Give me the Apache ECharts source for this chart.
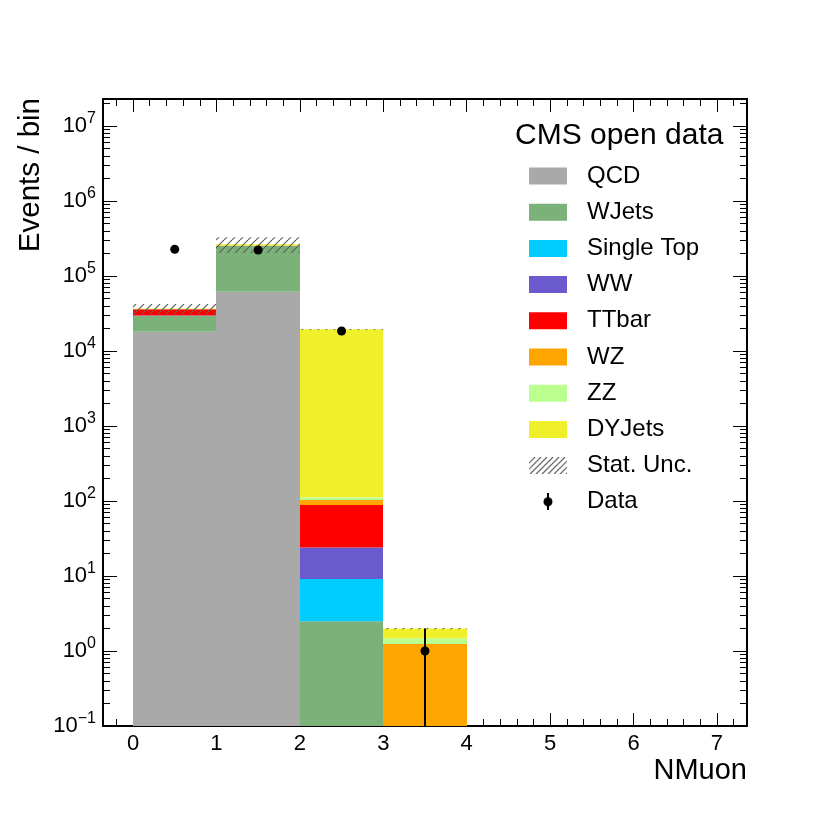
<!DOCTYPE html>
<html>
<head>
<meta charset="utf-8">
<title>NMuon</title>
<script src="https://cdn.jsdelivr.net/npm/echarts@6/dist/echarts.min.js"></script>
<style>
  html, body { margin: 0; padding: 0; background: #fff; }
  #main { width: 830px; height: 830px; }
</style>
</head>
<body>
<div id="main"></div>
<script type="text/javascript">
// bin edges of the NMuon histogram
var binEdges = [0, 1, 2, 3, 4, 5, 6, 7];

// stacked MC contributions per bin
var qcd       = [18100, 61800, 0,     0,    0, 0, 0];
var wjets     = [11200, 189000, 2.5,  0,    0, 0, 0];
var singleTop = [300,   800,   6.6,   0,    0, 0, 0];
var ww        = [100,   300,   14.8,  0,    0, 0, 0];
var ttbar     = [6400,  1500,  64.6,  0,    0, 0, 0];
var wz        = [50,    150,   14.6,  1.24, 0, 0, 0];
var zz        = [20,    60,    9,     0.24, 0, 0, 0];
var dyjets    = [600,   12000, 19400, 0.51, 0, 0, 0];

// stat. uncertainty on the MC sum
var statUnc   = [5500,  63000, 200,   0.04, 0, 0, 0];

// observed data
var dataCounts = [227000, 222000, 18500, 1, 0, 0, 0];

var procNames  = ['QCD', 'WJets', 'Single Top', 'WW', 'TTbar', 'WZ', 'ZZ', 'DYJets'];
var procValues = [qcd, wjets, singleTop, ww, ttbar, wz, zz, dyjets];
var procColors = ['#a9a9a9', '#7ab27a', '#00ccff', '#6a5acd', '#ff0000', '#ffa500', '#bbff8f', '#f0f02a'];

var FONT = "'Liberation Sans', Arial, Helvetica, sans-serif";
var xMin = -0.36, xMax = 7.36, yMin = 0.1, yMax = 2.29e7;

// hatch tile for the uncertainty band
function hatchTile() {
    var c = document.createElement('canvas');
    c.width = 8; c.height = 8;
    var g = c.getContext('2d');
    g.strokeStyle = '#606060';
    g.lineWidth = 1.2;
    for (var k = -8; k <= 8; k += 8) {
        g.beginPath(); g.moveTo(k, 8); g.lineTo(k + 8, 0); g.stroke();
    }
    return c;
}
function hatchIcon() {
    var c = document.createElement('canvas');
    c.width = 38; c.height = 17;
    var g = c.getContext('2d');
    g.strokeStyle = '#606060';
    g.lineWidth = 1.2;
    for (var k = -17; k < 38 + 17; k += 6) {
        g.beginPath(); g.moveTo(k, 17); g.lineTo(k + 17, 0); g.stroke();
    }
    return c.toDataURL();
}
function dataIcon() {
    var c = document.createElement('canvas');
    c.width = 38; c.height = 17;
    var g = c.getContext('2d');
    g.fillStyle = '#000';
    g.fillRect(18, 0, 2, 17);
    g.beginPath(); g.arc(19, 8.5, 4.5, 0, Math.PI * 2); g.fill();
    return c.toDataURL();
}
var TILE = hatchTile();

function rectFrom(api, minH) {
    var p0 = api.coord([api.value(0), api.value(2)]);
    var p1 = api.coord([api.value(1), api.value(3)]);
    var x0 = Math.round(p0[0]), x1 = Math.round(p1[0]);
    return { x: x0, y: p1[1], width: x1 - x0, height: Math.max(p0[1] - p1[1], minH) };
}
function renderBar(params, api) {
    return { type: 'rect', shape: rectFrom(api, 0), style: { fill: api.visual('color') } };
}
function renderUnc(params, api) {
    return { type: 'rect', shape: rectFrom(api, 1), style: { fill: { image: TILE, repeat: 'repeat' } } };
}
function renderData(params, api) {
    var c = api.coord([api.value(0), api.value(1)]);
    var lo = api.coord([api.value(0), api.value(2)]);
    var hi = api.coord([api.value(0), api.value(3)]);
    return {
        type: 'group',
        children: [
            { type: 'line', shape: { x1: c[0], y1: lo[1], x2: c[0], y2: hi[1] }, style: { stroke: '#000', lineWidth: 2 } },
            { type: 'circle', shape: { cx: c[0], cy: c[1], r: 4.5 }, style: { fill: '#000' } }
        ]
    };
}

// build the stack
var cum = dataCounts.map(function () { return 0; });
var series = [];
procValues.forEach(function (vals, i) {
    var rows = [];
    vals.forEach(function (v, j) {
        var lo = cum[j];
        cum[j] += v;
        if (v > 0) rows.push([binEdges[j], binEdges[j + 1], Math.max(lo, yMin), cum[j]]);
    });
    series.push({
        type: 'custom', name: procNames[i], renderItem: renderBar, data: rows,
        encode: { x: [0, 1], y: [2, 3] }, itemStyle: { color: procColors[i] },
        clip: true, silent: true, z: 2
    });
});

var uncRows = [];
cum.forEach(function (tot, j) {
    if (tot > 0) uncRows.push([binEdges[j], binEdges[j + 1], Math.max(tot - statUnc[j], yMin), tot + statUnc[j]]);
});
series.push({
    type: 'custom', name: 'Stat. Unc.', renderItem: renderUnc, data: uncRows,
    encode: { x: [0, 1], y: [2, 3] }, itemStyle: { color: '#808080' }, clip: true, silent: true, z: 3
});

var dataRows = [];
dataCounts.forEach(function (n, j) {
    if (n > 0) {
        var e = Math.sqrt(n);
        dataRows.push([(binEdges[j] + binEdges[j + 1]) / 2, n, Math.max(n - e, yMin), n + e]);
    }
});
series.push({
    type: 'custom', name: 'Data', renderItem: renderData, data: dataRows,
    encode: { x: 0, y: [1, 2, 3] }, itemStyle: { color: '#000' }, clip: true, silent: true, z: 4
});

function xLabel(v) {
    return Math.abs(v - Math.round(v)) < 1e-6 ? String(Math.round(v)) : '';
}
function yLabel(v) {
    var e = Math.log(v) / Math.LN10;
    if (Math.abs(e - Math.round(e)) > 1e-6) return '';
    e = Math.round(e);
    return '{b|10}{e|' + (e < 0 ? '\u2212' + (-e) : e) + '}';
}

function xAxisDef(pos) {
    return {
        type: 'value', position: pos, min: xMin, max: xMax,
        splitNumber: 8, minInterval: 1, maxInterval: 1,
        axisLine: { show: true, onZero: false, lineStyle: { color: '#000', width: 2 } },
        axisTick: { show: true, inside: true, length: 13, lineStyle: { color: '#000', width: 1 } },
        minorTick: { show: true, splitNumber: 5, length: 7, lineStyle: { color: '#000', width: 1 } },
        axisLabel: { show: pos === 'bottom', margin: 7, fontSize: 22, color: '#000', fontFamily: FONT, formatter: xLabel },
        splitLine: { show: false }
    };
}
function yAxisDef(pos) {
    return {
        type: 'log', logBase: 10, position: pos, min: yMin, max: yMax, splitNumber: 10,
        axisLine: { show: true, onZero: false, lineStyle: { color: '#000', width: 2 } },
        axisTick: { show: true, inside: true, length: 14, lineStyle: { color: '#000', width: 1 } },
        minorTick: { show: true, splitNumber: 9, length: 7, lineStyle: { color: '#000', width: 1 } },
        axisLabel: {
            show: pos === 'left', margin: 7, color: '#000', formatter: yLabel,
            rich: {
                b: { fontSize: 22, fontFamily: FONT, color: '#000' },
                e: { fontSize: 16, fontFamily: FONT, color: '#000', padding: [0, 0, 15, 0] }
            }
        },
        splitLine: { show: false }
    };
}

var legendData = procNames.map(function (n) { return { name: n, icon: 'rect' }; });
legendData.push({ name: 'Stat. Unc.', icon: 'image://' + hatchIcon() });
legendData.push({ name: 'Data', icon: 'image://' + dataIcon() });

var chart = echarts.init(document.getElementById('main'));
chart.setOption({
    animation: false,
    backgroundColor: '#fff',
    title: {
        text: 'CMS open data', left: 515, top: 121, padding: 0,
        textStyle: { fontSize: 30, fontWeight: 'normal', color: '#000', fontFamily: FONT }
    },
    legend: {
        orient: 'vertical', left: 529, top: 164, padding: 0,
        itemWidth: 38, itemHeight: 17, itemGap: 12.2, selectedMode: false,
        textStyle: { fontSize: 24, color: '#000', fontFamily: FONT, padding: [0, 0, 0, 15] },
        data: legendData
    },
    grid: { left: 103, right: 83, top: 99, bottom: 104 },
    xAxis: [xAxisDef('bottom'), xAxisDef('top')],
    yAxis: [yAxisDef('left'), yAxisDef('right')],
    graphic: [
        { type: 'text', right: 83, top: 756, style: { text: 'NMuon', font: '29px ' + FONT, fill: '#000' } },
        { type: 'text', left: 16, top: 98, rotation: Math.PI / 2, style: { text: 'Events / bin', font: '29.5px ' + FONT, fill: '#000' } }
    ],
    series: series
});
</script>
</body>
</html>
